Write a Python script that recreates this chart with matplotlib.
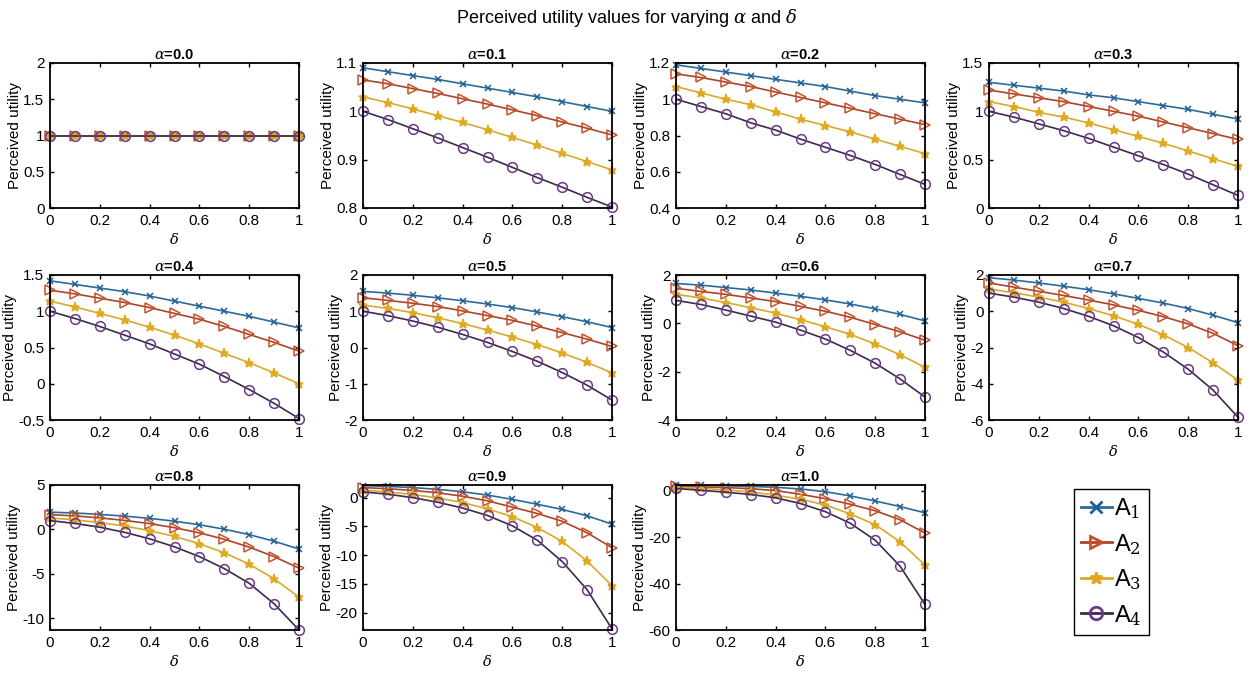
import numpy as np
import matplotlib
matplotlib.use('Agg')
import matplotlib.pyplot as plt
from matplotlib.lines import Line2D

plt.rcParams['font.family'] = ['Liberation Sans', 'DejaVu Sans']
plt.rcParams['mathtext.fontset'] = 'dejavuserif'

# delta values on the x axis
delta = [0, 0.1, 0.2, 0.3, 0.4, 0.5, 0.6, 0.7, 0.8, 0.9, 1.0]
alphas = ['0.0', '0.1', '0.2', '0.3', '0.4', '0.5', '0.6', '0.7', '0.8', '0.9', '1.0']
names = ['A$_1$', 'A$_2$', 'A$_3$', 'A$_4$']

# perceived utility, one list per alternative
a00_A1 = [1, 1, 1, 1, 1, 1, 1, 1, 1, 1, 1]
a00_A2 = [1, 1, 1, 1, 1, 1, 1, 1, 1, 1, 1]
a00_A3 = [1, 1, 1, 1, 1, 1, 1, 1, 1, 1, 1]
a00_A4 = [1, 1, 1, 1, 1, 1, 1, 1, 1, 1, 1]

a01_A1 = [1.090, 1.082, 1.074, 1.066, 1.057, 1.048, 1.039, 1.030, 1.020, 1.010, 1.000]
a01_A2 = [1.065, 1.057, 1.047, 1.037, 1.026, 1.015, 1.003, 0.991, 0.978, 0.965, 0.951]
a01_A3 = [1.030, 1.018, 1.005, 0.991, 0.977, 0.962, 0.946, 0.930, 0.913, 0.896, 0.879]
a01_A4 = [1.000, 0.983, 0.964, 0.945, 0.925, 0.905, 0.884, 0.863, 0.843, 0.822, 0.802]

a02_A1 = [1.19, 1.17, 1.15, 1.13, 1.11, 1.09, 1.07, 1.045, 1.02, 1.00, 0.98]
a02_A2 = [1.14, 1.12, 1.095, 1.07, 1.04, 1.01, 0.98, 0.95, 0.92, 0.89, 0.86]
a02_A3 = [1.07, 1.035, 1.00, 0.97, 0.93, 0.89, 0.855, 0.82, 0.78, 0.74, 0.70]
a02_A4 = [1.00, 0.96, 0.92, 0.87, 0.83, 0.78, 0.735, 0.69, 0.64, 0.585, 0.53]

a03_A1 = [1.30, 1.27, 1.24, 1.21, 1.17, 1.14, 1.10, 1.06, 1.02, 0.97, 0.92]
a03_A2 = [1.22, 1.18, 1.14, 1.10, 1.05, 1.00, 0.95, 0.89, 0.83, 0.77, 0.71]
a03_A3 = [1.10, 1.05, 0.99, 0.94, 0.88, 0.81, 0.74, 0.67, 0.59, 0.51, 0.43]
a03_A4 = [1.00, 0.94, 0.87, 0.80, 0.72, 0.63, 0.54, 0.45, 0.35, 0.24, 0.13]

a04_A1 = [1.42, 1.37, 1.32, 1.27, 1.21, 1.14, 1.07, 1.00, 0.93, 0.85, 0.77]
a04_A2 = [1.29, 1.24, 1.18, 1.12, 1.05, 0.97, 0.89, 0.79, 0.68, 0.57, 0.45]
a04_A3 = [1.14, 1.06, 0.97, 0.88, 0.78, 0.67, 0.55, 0.42, 0.29, 0.15, 0.00]
a04_A4 = [1.00, 0.90, 0.79, 0.67, 0.55, 0.41, 0.27, 0.10, -0.08, -0.27, -0.48]

a05_A1 = [1.55, 1.50, 1.44, 1.37, 1.29, 1.20, 1.10, 0.98, 0.85, 0.71, 0.55]
a05_A2 = [1.37, 1.30, 1.22, 1.13, 1.01, 0.88, 0.75, 0.59, 0.41, 0.23, 0.03]
a05_A3 = [1.17, 1.08, 0.96, 0.82, 0.66, 0.48, 0.29, 0.08, -0.15, -0.41, -0.70]
a05_A4 = [1.00, 0.88, 0.73, 0.56, 0.36, 0.14, -0.11, -0.38, -0.69, -1.04, -1.45]

a06_A1 = [1.65, 1.58, 1.48, 1.38, 1.25, 1.12, 0.97, 0.80, 0.60, 0.37, 0.10]
a06_A2 = [1.45, 1.32, 1.20, 1.05, 0.90, 0.70, 0.50, 0.25, -0.05, -0.35, -0.70]
a06_A3 = [1.20, 1.05, 0.86, 0.65, 0.42, 0.15, -0.14, -0.46, -0.85, -1.30, -1.82]
a06_A4 = [0.95, 0.78, 0.55, 0.30, 0.05, -0.28, -0.65, -1.12, -1.65, -2.30, -3.05]

a07_A1 = [1.85, 1.72, 1.56, 1.38, 1.19, 0.96, 0.71, 0.45, 0.15, -0.22, -0.63]
a07_A2 = [1.56, 1.33, 1.10, 0.87, 0.62, 0.35, 0.05, -0.30, -0.70, -1.22, -1.90]
a07_A3 = [1.23, 1.02, 0.78, 0.50, 0.15, -0.25, -0.72, -1.30, -2.00, -2.85, -3.80]
a07_A4 = [1.00, 0.78, 0.50, 0.15, -0.28, -0.80, -1.45, -2.25, -3.20, -4.35, -5.85]

a08_A1 = [1.95, 1.85, 1.70, 1.50, 1.25, 0.93, 0.53, 0.03, -0.58, -1.32, -2.20]
a08_A2 = [1.68, 1.52, 1.30, 1.02, 0.66, 0.20, -0.38, -1.10, -1.98, -3.05, -4.35]
a08_A3 = [1.30, 1.08, 0.78, 0.38, -0.13, -0.78, -1.60, -2.62, -3.90, -5.55, -7.60]
a08_A4 = [1.00, 0.68, 0.25, -0.32, -1.05, -1.95, -3.05, -4.40, -6.05, -8.35, -11.30]

a09_A1 = [2.10, 1.95, 1.75, 1.45, 1.02, 0.45, -0.30, -1.15, -2.05, -3.15, -4.60]
a09_A2 = [1.75, 1.55, 1.25, 0.85, 0.25, -0.55, -1.65, -2.75, -4.10, -6.10, -8.70]
a09_A3 = [1.30, 1.00, 0.55, -0.05, -0.85, -1.95, -3.30, -5.20, -7.60, -11.00, -15.30]
a09_A4 = [1.00, 0.60, 0.00, -0.80, -1.80, -3.10, -4.90, -7.40, -11.10, -16.00, -22.80]

a10_A1 = [2.40, 2.30, 2.15, 1.90, 1.50, 0.80, -0.40, -2.20, -4.40, -6.80, -9.50]
a10_A2 = [1.90, 1.70, 1.40, 0.90, 0.10, -1.50, -3.40, -5.80, -8.60, -12.50, -18.20]
a10_A3 = [1.35, 1.00, 0.40, -0.50, -1.90, -3.60, -6.10, -10.00, -14.60, -22.00, -32.00]
a10_A4 = [1.00, 0.20, -0.60, -1.60, -3.00, -5.50, -9.00, -14.00, -21.30, -32.50, -49.00]

series = [
    [a00_A1, a00_A2, a00_A3, a00_A4],
    [a01_A1, a01_A2, a01_A3, a01_A4],
    [a02_A1, a02_A2, a02_A3, a02_A4],
    [a03_A1, a03_A2, a03_A3, a03_A4],
    [a04_A1, a04_A2, a04_A3, a04_A4],
    [a05_A1, a05_A2, a05_A3, a05_A4],
    [a06_A1, a06_A2, a06_A3, a06_A4],
    [a07_A1, a07_A2, a07_A3, a07_A4],
    [a08_A1, a08_A2, a08_A3, a08_A4],
    [a09_A1, a09_A2, a09_A3, a09_A4],
    [a10_A1, a10_A2, a10_A3, a10_A4],
]

# y limits and ticks for each panel
ylims = [(0, 2), (0.8, 1.1), (0.4, 1.2), (0, 1.5), (-0.5, 1.5), (-2, 2),
         (-4, 2), (-6, 2), (-11.3, 5), (-23, 2.2), (-60, 2.5)]
yticks = [[0, 0.5, 1, 1.5, 2], [0.8, 0.9, 1, 1.1], [0.4, 0.6, 0.8, 1, 1.2],
          [0, 0.5, 1, 1.5], [-0.5, 0, 0.5, 1, 1.5], [-2, -1, 0, 1, 2],
          [-4, -2, 0, 2], [-6, -4, -2, 0, 2], [-10, -5, 0, 5],
          [-20, -15, -10, -5, 0], [-60, -40, -20, 0]]

line_colors = ['#2b6a99', '#a8452c', '#d6aa2c', '#3b2a4c']
mark_colors = ['#1f5f95', '#c8502a', '#e0aa20', '#6a3a88']
markers = ['x', '>', '*', 'o']
msizes = [5, 7, 6.5, 7]

W, H = 1253, 673
fig = plt.figure(figsize=(W / 100, H / 100), dpi=100)
fig.text(0.5, 1 - 18 / H, r'Perceived utility values for varying $\alpha$ and $\delta$',
         ha='center', va='center', fontsize=13)

col_left = [50, 363, 676, 989]
row_top = [63, 275, 485]
ax_w, ax_h = 249, 145

for k in range(11):
    r, c = divmod(k, 4)
    ax = fig.add_axes([col_left[c] / W, 1 - (row_top[r] + ax_h) / H, ax_w / W, ax_h / H])
    for i in range(4):
        ax.plot(delta, series[k][i], color=line_colors[i], lw=1.2,
                marker=markers[i], ms=msizes[i], mec=mark_colors[i],
                mfc='none' if markers[i] in ('>', 'o') else mark_colors[i], mew=1.1,
                clip_on=False, zorder=3)
    ax.set_xlim(0, 1)
    ax.set_ylim(*ylims[k])
    ax.set_xticks([0, 0.2, 0.4, 0.6, 0.8, 1])
    ax.set_xticklabels(['0', '0.2', '0.4', '0.6', '0.8', '1'])
    ax.set_yticks(yticks[k])
    ax.set_yticklabels(['%g' % v for v in yticks[k]])
    ax.tick_params(direction='in', length=3, width=1, labelsize=11, pad=4,
                   top=True, right=True)
    for s in ax.spines.values():
        s.set_linewidth(1.3)
        s.set_zorder(4)
    ax.set_title(r'$\alpha$=' + alphas[k], fontsize=10.5, fontweight='bold', pad=3)
    ax.set_xlabel(r'$\delta$', fontsize=10.5, labelpad=3)
    ax.set_ylabel('Perceived utility', fontsize=11, labelpad=1)

handles = [Line2D([0], [0], color=line_colors[i], lw=2, marker=markers[i], ms=9,
                  mec=mark_colors[i], mew=2,
                  mfc='none' if markers[i] in ('>', 'o') else mark_colors[i])
           for i in range(4)]
fig.legend(handles, names, loc='upper left', bbox_to_anchor=(1074 / W, 1 - 489 / H),
           fontsize=17, handlelength=1.3, handletextpad=0.1, labelspacing=0.45,
           borderpad=0.3, borderaxespad=0, fancybox=False, edgecolor='black',
           framealpha=1)

fig.savefig('out.png', dpi=100)
